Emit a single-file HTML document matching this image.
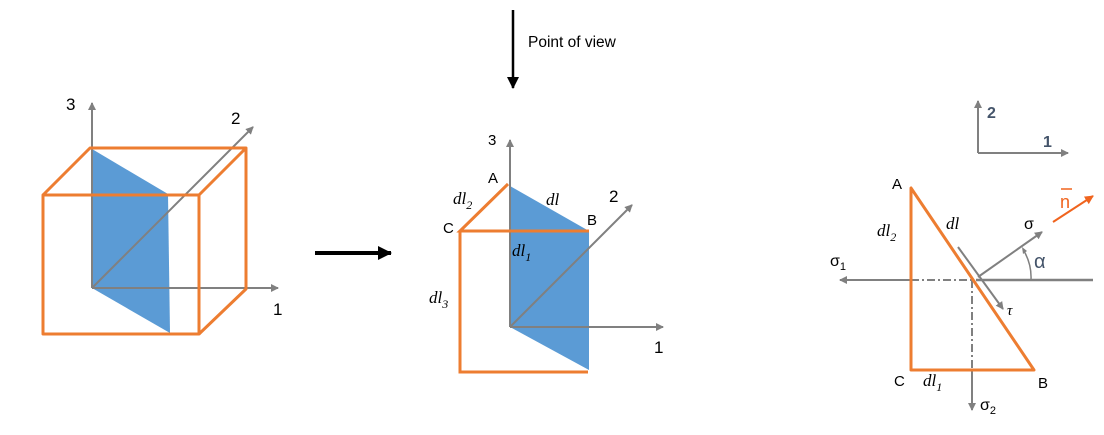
<!DOCTYPE html>
<html><head><meta charset="utf-8"><style>
body{margin:0;background:#fff}
svg text{font-family:"Liberation Sans",sans-serif}
.it{font-family:"Liberation Serif",serif;font-style:italic}
</style></head><body>
<svg width="1104" height="430" viewBox="0 0 1104 430" xmlns="http://www.w3.org/2000/svg">
<defs>
<marker id="g" markerWidth="8" markerHeight="8" refX="7" refY="4" orient="auto" markerUnits="userSpaceOnUse"><path d="M0,0 L8,4 L0,8 z" fill="#808080"/></marker>
<marker id="k" markerWidth="12" markerHeight="12" refX="11" refY="6" orient="auto" markerUnits="userSpaceOnUse"><path d="M0,0 L12,6 L0,12 z" fill="#000"/></marker>
<marker id="k2" markerWidth="14" markerHeight="14" refX="13" refY="7" orient="auto" markerUnits="userSpaceOnUse"><path d="M0,0 L14,7 L0,14 z" fill="#000"/></marker>
<marker id="o" markerWidth="9" markerHeight="9" refX="8" refY="4.5" orient="auto" markerUnits="userSpaceOnUse"><path d="M0,0 L9,4.5 L0,9 z" fill="#f0641e"/></marker>
</defs>
<!-- left cube -->
<polygon points="92,149 168,194 170,333 92,288" fill="#5b9bd5"/>
<g stroke="#808080" stroke-width="2" fill="none">
<line x1="92" y1="288" x2="92" y2="103" marker-end="url(#g)"/>
<line x1="92" y1="288" x2="278" y2="288" marker-end="url(#g)"/>
<line x1="92" y1="288" x2="253" y2="127" marker-end="url(#g)"/>
</g>
<g stroke="#ed7d31" stroke-width="3" fill="none" stroke-linejoin="round">
<rect x="43" y="195" width="156" height="139"/>
<polyline points="43,195 90,148 246,148 246,289 199,334"/>
<line x1="199" y1="195" x2="246" y2="148"/>
</g>
<text x="66" y="110" font-size="17">3</text>
<text x="231" y="124" font-size="17">2</text>
<text x="273" y="315" font-size="17">1</text>
<!-- point of view -->
<line x1="513" y1="10" x2="513" y2="88" stroke="#000" stroke-width="2.5" marker-end="url(#k)"/>
<text x="528" y="47" font-size="15.5">Point of view</text>
<line x1="315" y1="253" x2="391" y2="253" stroke="#000" stroke-width="4" marker-end="url(#k2)"/>
<!-- middle -->
<polygon points="510,186 589,231 589,370 510,327" fill="#5b9bd5"/>
<g stroke="#808080" stroke-width="2" fill="none">
<line x1="510" y1="327" x2="510" y2="140" marker-end="url(#g)"/>
<line x1="510" y1="327" x2="663" y2="327" marker-end="url(#g)"/>
<line x1="510" y1="327" x2="632" y2="205" marker-end="url(#g)"/>
</g>
<g stroke="#ed7d31" stroke-width="3" fill="none">
<polyline points="508,184 460,231 589,231"/>
<polyline points="460,231 460,372 588,372"/>
</g>
<text x="488" y="145" font-size="15">3</text>
<text x="488" y="183" font-size="15">A</text>
<text x="443" y="233" font-size="15">C</text>
<text x="587" y="225" font-size="15">B</text>
<text x="609" y="202" font-size="17">2</text>
<text x="654" y="353" font-size="17">1</text>
<text class="it" x="453" y="204" font-size="17">dl<tspan font-size="12" dy="5">2</tspan></text>
<text class="it" x="546" y="205" font-size="17">dl</text>
<text class="it" x="512" y="256" font-size="17">dl<tspan font-size="12" dy="5">1</tspan></text>
<text class="it" x="429" y="303" font-size="17">dl<tspan font-size="12" dy="5">3</tspan></text>
<!-- right -->
<line x1="978" y1="153" x2="978" y2="101" stroke="#808080" stroke-width="2" marker-end="url(#g)"/>
<line x1="978" y1="153" x2="1068" y2="153" stroke="#808080" stroke-width="2" marker-end="url(#g)"/>
<text x="987" y="118" font-size="16" font-weight="bold" fill="#44546a">2</text>
<text x="1043" y="147" font-size="16" font-weight="bold" fill="#44546a">1</text>
<g stroke="#808080" stroke-width="2" fill="none">
<line x1="911" y1="280" x2="840" y2="280" marker-end="url(#g)"/>
<line x1="911" y1="280" x2="972" y2="280" stroke-dasharray="8,3,2,3"/>
<line x1="976" y1="280" x2="1093" y2="280" stroke-width="2.5"/>
<line x1="972" y1="280" x2="972" y2="370" stroke-dasharray="8,3,2,3"/>
<line x1="972" y1="370" x2="972" y2="410" marker-end="url(#g)"/>
<line x1="958" y1="247" x2="1003" y2="309" marker-end="url(#g)"/>
<line x1="978" y1="277" x2="1042" y2="232" marker-end="url(#g)"/>
<path d="M1031,280 A53,53 0 0 0 1024,251" stroke-width="1.5"/>
</g>
<path d="M1023,254 L1022,247 L1027,251 z" fill="#808080"/>
<polygon points="911,188 911,370 1034,370" fill="none" stroke="#ed7d31" stroke-width="3" stroke-linejoin="round"/>
<line x1="1053" y1="222" x2="1093" y2="196" stroke="#f0641e" stroke-width="2" marker-end="url(#o)"/>
<text x="1060" y="208" font-size="18" fill="#f0641e">n</text>
<line x1="1061" y1="189" x2="1072" y2="189" stroke="#f0641e" stroke-width="1.5"/>
<text x="892" y="189" font-size="15">A</text>
<text x="894" y="386" font-size="15">C</text>
<text x="1038" y="388" font-size="15">B</text>
<text class="it" x="877" y="236" font-size="17">dl<tspan font-size="12" dy="5">2</tspan></text>
<text class="it" x="946" y="229" font-size="17">dl</text>
<text class="it" x="923" y="386" font-size="17">dl<tspan font-size="12" dy="5">1</tspan></text>
<text x="1024" y="229" font-size="16">σ</text>
<text x="1034" y="268" font-size="20" fill="#44546a">α</text>
<text class="it" x="1007" y="315" font-size="15">τ</text>
<text x="830" y="266" font-size="16">σ<tspan font-size="11" dy="4">1</tspan></text>
<text x="980" y="410" font-size="16">σ<tspan font-size="11" dy="4">2</tspan></text>
</svg>
</body></html>
